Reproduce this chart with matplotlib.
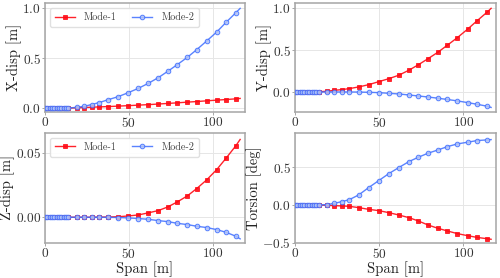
import matplotlib
matplotlib.use("Agg")
import matplotlib.pyplot as plt
from matplotlib.ticker import FuncFormatter

plt.rcParams['font.family'] = 'serif'
plt.rcParams['font.serif'] = ['cmr10']
plt.rcParams['mathtext.fontset'] = 'cm'
plt.rcParams['axes.formatter.use_mathtext'] = True
plt.rcParams['axes.unicode_minus'] = True

# span positions of the nodes (markers) and end of line
span = [0, 1.4, 2.8, 4.2, 5.6, 7.0, 8.4, 9.8, 11.2, 12.6, 14.0,
        18.8, 23.4, 27.8, 32.2, 37.8, 43.7, 49.7, 55.7, 61.6, 67.6,
        73.2, 78.9, 84.9, 90.5, 96.4, 102.4, 108.0, 113.9]
span_end = 116.4

# X-disp
x_mode1 = [0, 0.0002, 0.0004, 0.0006, 0.0008, 0.001, 0.0013, 0.0016, 0.002, 0.0024, 0.0028,
           0.005, 0.008, 0.011, 0.014, 0.018, 0.022, 0.027, 0.032, 0.037, 0.043,
           0.049, 0.055, 0.062, 0.068, 0.075, 0.082, 0.088, 0.095]
x_mode1_end = 0.099
x_mode2 = [0, 0, 0, 0.0001, 0.0002, 0.0003, 0.0005, 0.0008, 0.0012, 0.0017, 0.0025,
           0.01, 0.02, 0.038, 0.057, 0.087, 0.117, 0.157, 0.2, 0.25, 0.307,
           0.37, 0.437, 0.51, 0.587, 0.673, 0.763, 0.86, 0.957]
x_mode2_end = 1.0

# Y-disp
y_mode1 = [0, 0, 0, 0.0001, 0.0002, 0.0003, 0.0005, 0.0008, 0.0012, 0.0017, 0.0025,
           0.008, 0.02, 0.028, 0.04, 0.06, 0.087, 0.123, 0.159, 0.2, 0.26,
           0.325, 0.397, 0.476, 0.56, 0.65, 0.75, 0.85, 0.952]
y_mode1_end = 1.0
y_mode2 = [0, 0, 0, 0, 0, 0, 0, 0, 0, 0, 0,
           0, 0, 0, 0, -0.001, -0.004, -0.008, -0.016, -0.024, -0.036,
           -0.048, -0.06, -0.075, -0.09, -0.107, -0.127, -0.147, -0.17]
y_mode2_end = -0.185

# Z-disp
z_mode1 = [0, 0, 0, 0, 0, 0, 0, 0, 0, 0, 0,
           0, 0, 0, 0.0001, 0.0002, 0.0004, 0.001, 0.0018, 0.0034, 0.0052,
           0.008, 0.0119, 0.0166, 0.0223, 0.029, 0.037, 0.0459, 0.0557]
z_mode1_end = 0.0605
z_mode2 = [0, 0, 0, 0, 0, 0, 0, 0, 0, 0, 0,
           0, 0, 0, 0, -0.0001, -0.0002, -0.0005, -0.001, -0.0016, -0.0026,
           -0.0034, -0.0047, -0.0057, -0.007, -0.008, -0.0096, -0.0117, -0.0148]
z_mode2_end = -0.0168

# Torsion
t_mode1 = [0, 0, 0, 0, 0, 0, 0, 0, 0, -0.0005, -0.001,
           -0.004, -0.009, -0.013, -0.018, -0.035, -0.058, -0.075, -0.102, -0.133, -0.168,
           -0.212, -0.265, -0.31, -0.345, -0.38, -0.407, -0.43, -0.447]
t_mode1_end = -0.455
t_mode2 = [0, 0, 0, 0, 0, 0, 0, 0, 0, 0.0005, 0.001,
           0.004, 0.022, 0.044, 0.07, 0.133, 0.23, 0.323, 0.416, 0.496, 0.575,
           0.633, 0.686, 0.73, 0.774, 0.81, 0.832, 0.854, 0.863]
t_mode2_end = 0.867

ylabels = ['X-disp [m]', 'Y-disp [m]', 'Z-disp [m]', 'Torsion [deg]']
legend_labels = ['Mode-1', 'Mode-2']

panels = [
    (x_mode1, x_mode1_end, x_mode2, x_mode2_end, (-0.037, 1.053), [0.0, 0.5, 1.0], '%.1f'),
    (y_mode1, y_mode1_end, y_mode2, y_mode2_end, (-0.24, 1.063), [0.0, 0.5, 1.0], '%.1f'),
    (z_mode1, z_mode1_end, z_mode2, z_mode2_end, (-0.020, 0.0656), [0.0, 0.05], '%.2f'),
    (t_mode1, t_mode1_end, t_mode2, t_mode2_end, (-0.504, 0.956), [-0.5, 0.0, 0.5], '%.1f'),
]

fig = plt.figure(figsize=(5.0, 2.78), dpi=100)
rects = [
    [0.09, 0.597, 0.40, 0.392],
    [0.59, 0.597, 0.402, 0.392],
    [0.09, 0.126, 0.40, 0.396],
    [0.59, 0.126, 0.402, 0.396],
]

red = '#ff0a14'
blue = '#3d6dff'

for i, (m1, m1e, m2, m2e, ylim, yt, fmt) in enumerate(panels):
    ax = fig.add_axes(rects[i])
    xs = list(span) + [span_end]
    ax.plot(xs, list(m1) + [m1e], color=red, lw=1.0, alpha=0.9,
            marker='s', ms=3.3, markevery=list(range(len(span))),
            mfc=red, mec=red, mew=0.6, label=legend_labels[0], zorder=3)
    ax.plot(xs, list(m2) + [m2e], color=blue, lw=1.0, alpha=0.85,
            marker='o', ms=3.3, markevery=list(range(len(span))),
            mfc='#b3c4f7', mec=blue, mew=0.7, label=legend_labels[1], zorder=3)
    ax.set_xlim(0, 119.3)
    ax.set_ylim(*ylim)
    ax.set_xticks([0, 50, 100])
    ax.set_yticks(yt)
    ax.yaxis.set_major_formatter(FuncFormatter(lambda v, p, f=fmt: '$%s$' % (f % v)))
    ax.xaxis.set_major_formatter(FuncFormatter(lambda v, p: '$%d$' % v))
    ax.grid(True, color='#e6e6e6', lw=0.7)
    ax.set_axisbelow(True)
    for s in ax.spines.values():
        s.set_color('#a6a6a6')
        s.set_linewidth(1.1)
    ax.tick_params(labelsize=9.6, colors='#333333', length=2.0, width=0.7, pad=1.0)
    ax.tick_params(color='#a6a6a6')
    ax.set_ylabel(ylabels[i], fontsize=10.5, labelpad=0.5, color='#222222')
    if i >= 2:
        ax.set_xlabel('Span [m]', fontsize=10.5, labelpad=0, color='#222222')
    if i % 2 == 0:
        leg = ax.legend(loc='upper left', ncol=2, fontsize=7.3, frameon=True,
                        edgecolor='#dddddd', framealpha=0.9, columnspacing=1.5,
                        handlelength=2.0, borderpad=0.45, handletextpad=0.9)
        for t in leg.get_texts():
            t.set_color('#444444')

fig.savefig('out.png', dpi=100)
